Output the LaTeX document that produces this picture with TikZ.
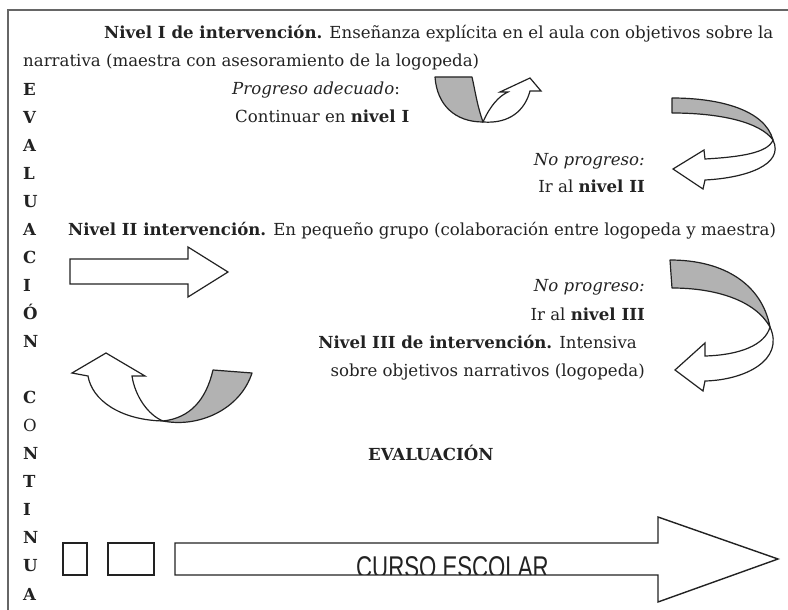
\documentclass[tikz,border=0pt]{standalone}
\usepackage{fontspec}
\setmainfont{DejaVu Serif}
\newfontfamily\cursofont{Liberation Sans}
\usetikzlibrary{positioning}
\definecolor{Ink}{HTML}{222222}
\definecolor{FrameGray}{HTML}{666666}
\definecolor{BandGray}{HTML}{B2B2B2}
\tikzset{%
  txt/.style={%
    inner sep=0pt,%
    text=Ink,%
    font={\fontsize{16.6}{28}\selectfont}%
  },
  vletter/.style={%
    txt,%
    anchor=base west,%
    font={\fontsize{16.6}{28}\selectfont\bfseries}%
  },
  frame_line/.style={%
    draw=FrameGray,%
    line width=1.6pt%
  },
  band/.style={%
    fill=BandGray,%
    draw=Ink,%
    line width=1.2pt,%
    line join=round%
  },
  front_arrow/.style={%
    fill=white,%
    draw=Ink,%
    line width=1.2pt,%
    line join=miter%
  },
  box_arrow/.style={%
    draw=Ink,%
    line width=1.4pt,%
    line join=miter%
  },
}

\begin{document}
\begin{tikzpicture}[x=1pt, y=-1pt]
    \useasboundingbox (0,0) rectangle (788,610);
    \draw[frame_line] (788,10) -- (8,10) -- (8,610);

    % texto del nivel I
    \node[txt, anchor=base west] (NivelI) at (104,39)
      {\textbf{Nivel I de intervención.} Enseñanza explícita en el aula con objetivos sobre la};
    \node[txt, anchor=base west] (NivelIb) at (23,67)
      {narrativa (maestra con asesoramiento de la logopeda)};
    \node[txt, anchor=base west] (Adecuado) at (232,95) {\textit{Progreso adecuado}:};
    \node[txt, anchor=base west] (Continuar) at (235,123) {Continuar en \textbf{nivel I}};
    \node[txt, anchor=base east] (NoProgI) at (645,165) {\textit{No progreso:}};
    \node[txt, anchor=base east] (IrII) at (645,192) {Ir al \textbf{nivel II}};

    % texto del nivel II y III
    \node[txt, anchor=base west] (NivelII) at (68,235)
      {\textbf{Nivel II intervención.} En pequeño grupo (colaboración entre logopeda y maestra)};
    \node[txt, anchor=base east] (NoProgII) at (645,291) {\textit{No progreso:}};
    \node[txt, anchor=base east] (IrIII) at (645,320) {Ir al \textbf{nivel III}};
    \node[txt, anchor=base east] (NivelIII) at (637,348)
      {\textbf{Nivel III de intervención.} Intensiva};
    \node[txt, anchor=base east] (NivelIIIb) at (645,376)
      {sobre objetivos narrativos (logopeda)};
    \node[txt, anchor=base west] (Evaluacion) at (368,460) {\textbf{EVALUACIÓN}};

    % evaluacion continua, en vertical
    \foreach \ch [count=\i from 2] in {E,V,A,L,U,A,C,I,Ó,N}
      \node[vletter] (ev\i) at (23,{39+28.05*\i}) {\ch};
    \foreach \ch [count=\i from 13] in {C,{\mdseries O},N,T,I,N,U,A}
      \node[vletter] (ev\i) at (23,{39+28.05*\i}) {\ch};

    % flecha: progreso adecuado
    \draw[band] (435,77) .. controls (437,105) and (455,122) .. (483,122)
      .. controls (477,105) and (475,90) .. (472,77) -- cycle;
    \draw[front_arrow] (483,122) .. controls (490,106) and (499,96) .. (508,92)
      -- (500,92) -- (530,78) -- (541,91) -- (530,91)
      .. controls (525,110) and (510,124) .. cycle;

    % flecha: no progreso (nivel II)
    \draw[band] (672,98) .. controls (720,98) and (765,110) .. (773,140)
      .. controls (760,122) and (720,113) .. (672,113) -- cycle;
    \draw[front_arrow] (773,140) .. controls (785,165) and (745,178) .. (705,180)
      -- (703,189) -- (673,169) -- (704,150) -- (705,159)
      .. controls (740,157) and (768,153) .. cycle;

    % flecha recta del nivel II
    \draw[front_arrow] (70,259) -- (188,259) -- (188,247) -- (228,272)
      -- (188,297) -- (188,284) -- (70,284) -- cycle;

    % flecha: no progreso (nivel III)
    \draw[band] (670,260) .. controls (725,260) and (762,285) .. (770,327)
      .. controls (755,300) and (715,288) .. (672,288) -- cycle;
    \draw[front_arrow] (770,327) .. controls (785,360) and (745,380) .. (705,381)
      -- (703,391) -- (675,370) -- (705,343) -- (705,356)
      .. controls (740,355) and (765,345) .. cycle;

    % flecha inferior izquierda
    \draw[band] (213,370) .. controls (206,400) and (190,418) .. (163,421)
      .. controls (198,428) and (240,410) .. (252,373) -- cycle;
    \draw[front_arrow] (163,421) .. controls (120,420) and (92,400) .. (88,376)
      -- (72,373) -- (106,353) -- (145,376) -- (132,376)
      .. controls (135,396) and (148,415) .. cycle;

    % curso escolar
    \draw[box_arrow] (63,543) rectangle (87,575);
    \draw[box_arrow] (108,543) rectangle (154,575);
    \begin{scope}
      \clip (176,544) rectangle (657,574);
      \node[inner sep=0pt, anchor=base west, text=Ink] (Curso) at (356,577)
        {\cursofont\fontsize{30}{30}\selectfont\scalebox{0.74}[1]{CURSO ESCOLAR}};
    \end{scope}
    \draw[box_arrow] (175,543) -- (658,543) -- (658,517) -- (778,559)
      -- (658,602) -- (658,575) -- (175,575) -- cycle;
\end{tikzpicture}
\end{document}
